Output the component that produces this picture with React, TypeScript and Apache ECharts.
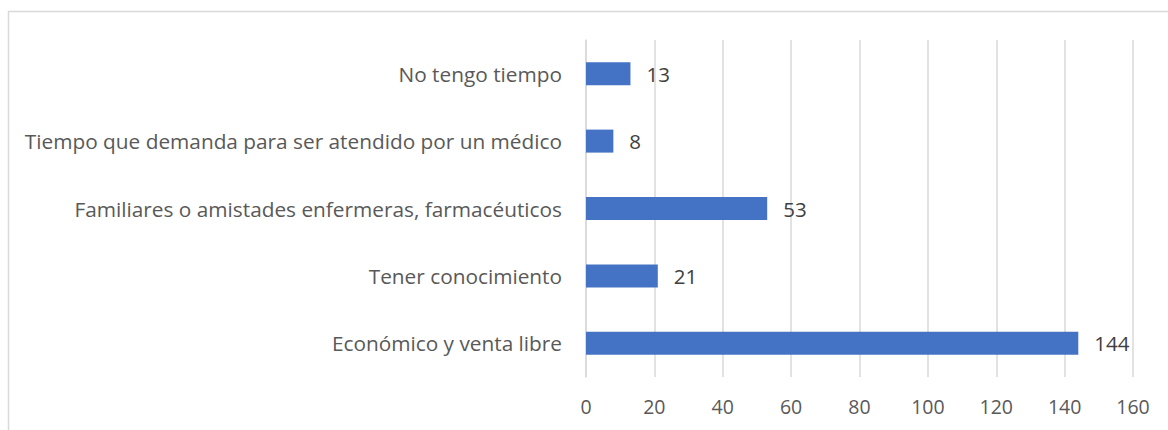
import React, { useEffect, useRef } from "react";
import * as echarts from "echarts";

const categories = [
  "Económico y venta libre",
  "Tener conocimiento",
  "Familiares o amistades enfermeras, farmacéuticos",
  "Tiempo que demanda para ser atendido por un médico",
  "No tengo tiempo",
];
const values = [144, 21, 53, 8, 13];
const xTicks = { min: 0, max: 160, interval: 20 };

export default function App() {
  const ref = useRef<HTMLDivElement>(null);
  useEffect(() => {
    const chart = echarts.init(ref.current!, null, { renderer: "svg" });
    const font = "'Open Sans', 'Noto Sans', sans-serif";
    chart.setOption({
      animation: false,
      backgroundColor: "#ffffff",
      grid: { left: 586, right: 35, top: 40, bottom: 53, containLabel: false },
      graphic: [
        {
          type: "rect",
          shape: { x: 8.5, y: 11.5, width: 1200, height: 500 },
          style: { fill: "none", stroke: "#d9d9d9", lineWidth: 1.5 },
          silent: true,
        },
      ],
      xAxis: {
        type: "value",
        min: xTicks.min,
        max: xTicks.max,
        interval: xTicks.interval,
        axisLine: { show: false },
        axisTick: { show: false },
        splitLine: { show: true, lineStyle: { color: "#d9d9d9", width: 1.5 } },
        axisLabel: { color: "#595959", fontSize: 19.5, fontFamily: font, margin: 19 },
      },
      yAxis: {
        type: "category",
        data: categories,
        axisLine: { show: true, lineStyle: { color: "#d9d9d9", width: 1.5 } },
        axisTick: { show: false },
        axisLabel: { color: "#595959", fontSize: 20.8, fontFamily: font, margin: 24 },
      },
      series: [
        {
          type: "bar",
          data: values,
          barWidth: 23,
          itemStyle: { color: "#4472c4" },
          label: {
            show: true,
            position: "right",
            distance: 16,
            color: "#404040",
            fontSize: 20.5,
            fontFamily: font,
          },
        },
      ],
    });
    return () => chart.dispose();
  }, []);
  return <div ref={ref} style={{ width: 1168, height: 430, position: "absolute", left: 0, top: 0 }} />;
}
